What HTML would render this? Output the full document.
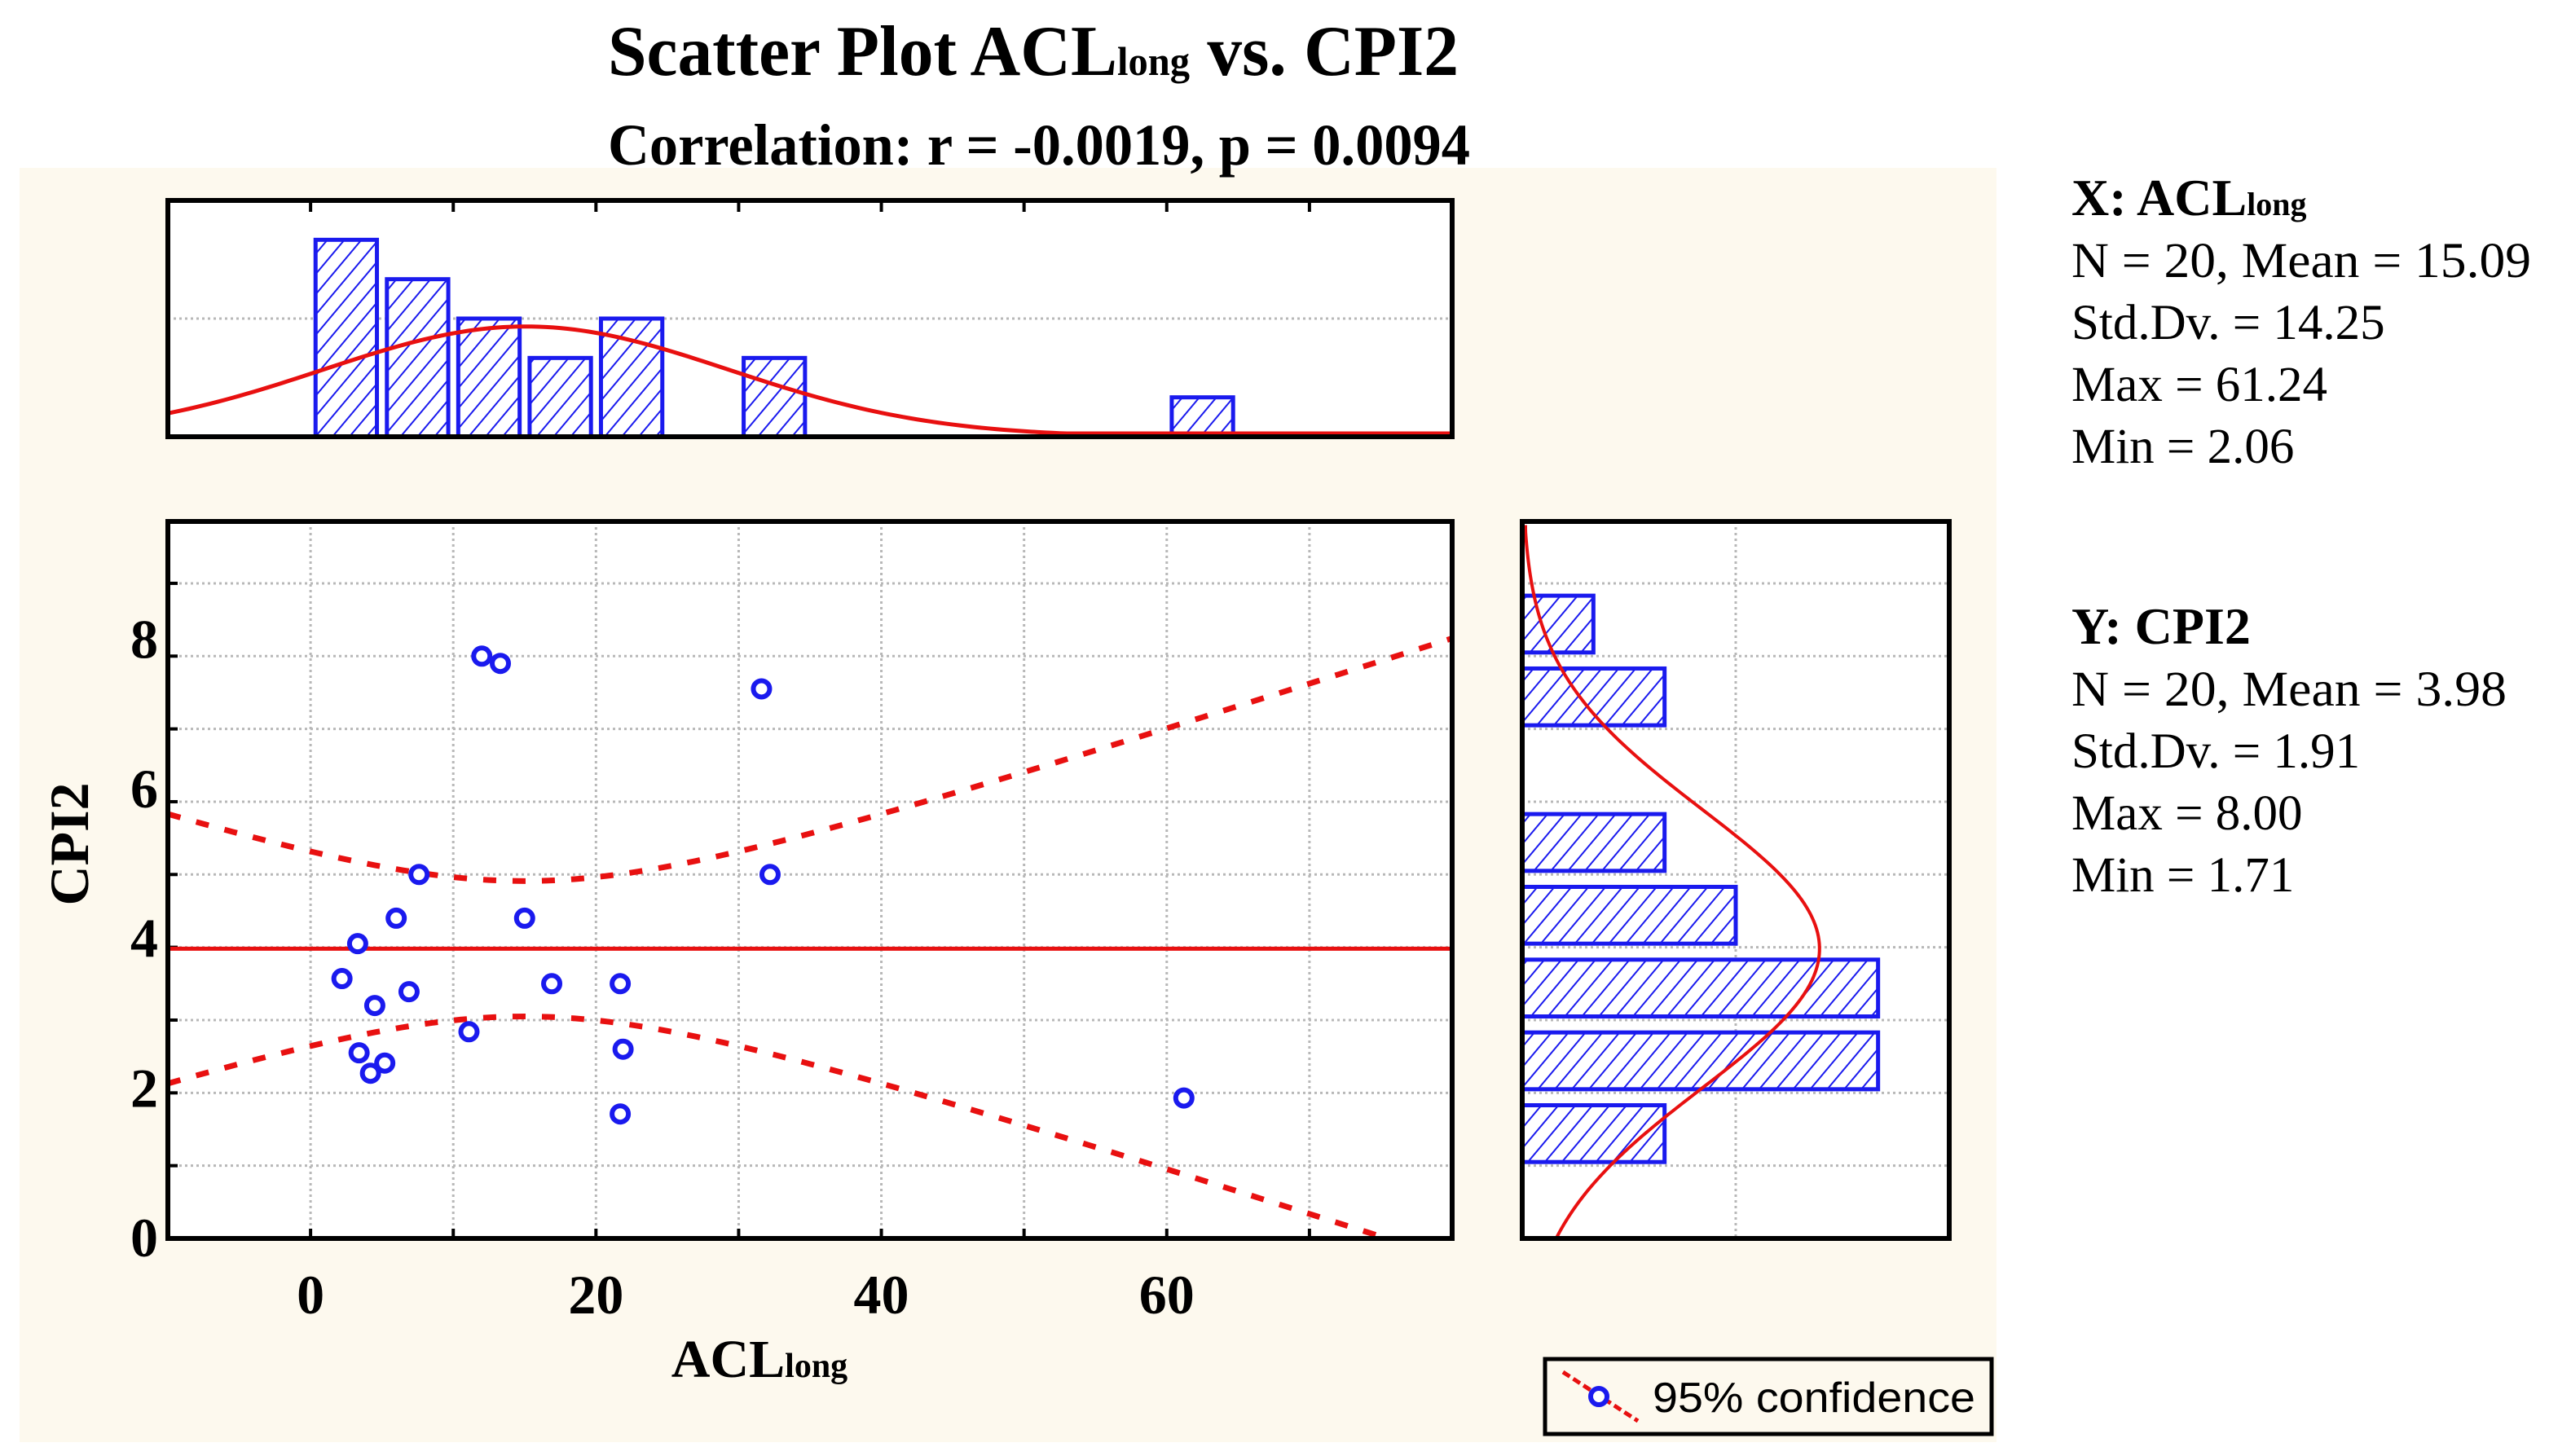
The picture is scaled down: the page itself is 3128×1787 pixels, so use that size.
<!DOCTYPE html>
<html><head><meta charset="utf-8"><style>
html,body{margin:0;padding:0;background:#fff;}
svg{display:block;}
text{font-family:"Liberation Serif",serif;}
</style></head><body>
<svg id="chart" width="3128" height="1787" viewBox="0 0 3128 1787" xmlns="http://www.w3.org/2000/svg">
<defs>
<pattern id="hatch" patternUnits="userSpaceOnUse" width="16" height="16" patternTransform="rotate(40)">
<rect width="16" height="16" fill="#fff"/>
<line x1="0" y1="0" x2="0" y2="16" stroke="#1a1aee" stroke-width="4"/>
</pattern>
</defs>
<rect x="24" y="206" width="2426" height="1564" fill="#fdf9ee"/>
<text x="746" y="92" font-size="88" font-weight="bold" textLength="1044" lengthAdjust="spacingAndGlyphs">Scatter Plot ACL<tspan font-size="50">long</tspan> vs. CPI2</text>
<text x="746" y="202" font-size="72" font-weight="bold" textLength="1058" lengthAdjust="spacingAndGlyphs">Correlation: r = -0.0019, p = 0.0094</text>
<g id="stats" font-size="61">
<text x="2542" y="264" font-weight="bold" font-size="64">X: ACL<tspan font-size="40">long</tspan></text>
<text x="2542" y="340" textLength="564" lengthAdjust="spacingAndGlyphs">N = 20, Mean = 15.09</text>
<text x="2542" y="416">Std.Dv. = 14.25</text>
<text x="2542" y="492">Max = 61.24</text>
<text x="2542" y="568">Min = 2.06</text>
<text x="2542" y="790" font-weight="bold" font-size="64">Y: CPI2</text>
<text x="2542" y="866" textLength="534" lengthAdjust="spacingAndGlyphs">N = 20, Mean = 3.98</text>
<text x="2542" y="942">Std.Dv. = 1.91</text>
<text x="2542" y="1018">Max = 8.00</text>
<text x="2542" y="1094">Min = 1.71</text>
</g>
<g id="legend">
<rect x="1896" y="1668" width="548" height="92" fill="#fdf9ee" stroke="#000" stroke-width="5"/>
<line x1="1918" y1="1684" x2="2010" y2="1744" stroke="#e81010" stroke-width="5" stroke-dasharray="10,5"/>
<circle cx="1962" cy="1714" r="10" fill="#fff" stroke="#1a1aee" stroke-width="6"/>
<text x="2028" y="1733" font-size="52" textLength="396" lengthAdjust="spacingAndGlyphs" style="font-family:'Liberation Sans',sans-serif">95% confidence</text>
</g>
<g id="g"></g>
</svg>
<script>
// ---- data ----
const xVals = [12.0,13.3,31.6,32.2,7.6,6.0,15.0,3.3,2.2,6.9,16.9,21.7,4.5,11.1,3.4,21.9,5.2,4.2,21.7,61.2];
const yVals = [8.0,7.9,7.55,5.0,5.0,4.4,4.4,4.05,3.57,3.39,3.5,3.5,3.2,2.84,2.55,2.6,2.41,2.27,1.71,1.93];
const xBinStarts = [0,5,10,15,20,30,60];
const xBinCounts = [5,4,3,2,3,2,1];
const yBinStarts = [8,7,5,4,3,2,1];
const yBinCounts = [1,2,2,3,5,5,2];
const xTicks = [0,20,40,60];
const yTicks = [0,2,4,6,8];
const xMean = 15.09, xSd = 14.25, yMean = 3.98, ySd = 1.91, nObs = 20;
const bandA = 0.865, bandB = 0.0041;
const bandCenter = 15;

const NS="http://www.w3.org/2000/svg";
const g=document.getElementById('g');
function mk(tag,attrs,parent){const e=document.createElementNS(NS,tag);for(const k in attrs)e.setAttribute(k,attrs[k]);(parent||g).appendChild(e);return e;}

const L=206,R=1782,T=640,B=1520;
const X=v=>L+(v+10)/90*(R-L);
const Y=v=>B-v/9.85*(B-T);
const HT=246,HB=536;
const HY=c=>HB-c/6*(HB-HT);
const RL=1868,RR=2392;
const RX=c=>RL+c/6*(RR-RL);

function frame(x,y,w,h,name){
  const r=mk('rect',{x:x,y:y,width:w,height:h,fill:'#fff'});
  
  
  return r;
}
function border(x,y,w,h,name){
  const r=mk('rect',{x:x,y:y,width:w,height:h,fill:'none',stroke:'#000','stroke-width':6});
  
  
}
const grid={stroke:'#b8b8b8','stroke-width':3,'stroke-dasharray':'3,4'};

// ---- top histogram ----
frame(L,HT,R-L,HB-HT,'x-histogram-area');
let gl=mk('line',Object.assign({x1:L,x2:R,y1:HY(3),y2:HY(3)},grid));


xBinStarts.forEach((s,i)=>{
  const r=mk('rect',{x:X(s+0.35),y:HY(xBinCounts[i]),width:X(s+4.65)-X(s+0.35),height:HB-HY(xBinCounts[i]),fill:'url(#hatch)',stroke:'#1a1aee','stroke-width':5});
  
  
});
let pts=[];
for(let v=-10;v<=80;v+=0.5){const d=nObs*5*Math.exp(-0.5*((v-xMean)/xSd)**2)/(xSd*Math.sqrt(2*Math.PI));pts.push(X(v)+','+Math.min(HY(d),HB-4));}
let c=mk('polyline',{points:pts.join(' '),fill:'none',stroke:'#e81010','stroke-width':5});


for(let v=0;v<=70;v+=10){
  let t=mk('line',{x1:X(v),x2:X(v),y1:HT,y2:HT+14,stroke:'#000','stroke-width':4});
  
  
}
border(L,HT,R-L,HB-HT,'x-histogram-frame');

// ---- main scatter ----
frame(L,T,R-L,B-T,'scatter-area');
for(let v=0;v<=70;v+=10){
  const l=mk('line',Object.assign({x1:X(v),x2:X(v),y1:T,y2:B},grid));
  
  
  const t=mk('line',{x1:X(v),x2:X(v),y1:B-12,y2:B,stroke:'#000','stroke-width':4});
  
  
}
for(let v=1;v<=9;v++){
  const l=mk('line',Object.assign({x1:L,x2:R,y1:Y(v),y2:Y(v)},grid));
  
  
  const t=mk('line',{x1:L,x2:L+12,y1:Y(v),y2:Y(v),stroke:'#000','stroke-width':4});
  
  
}
let rl=mk('line',{x1:L,x2:R,y1:Y(yMean),y2:Y(yMean),stroke:'#e81010','stroke-width':5});


['upper','lower'].forEach((k,idx)=>{
  const p=[];
  for(let v=-10;v<=80;v+=0.5){
    const h=Math.sqrt(bandA+bandB*(v-bandCenter)**2);
    const yy=idx===0?yMean+h:yMean-h;
    if(yy<0)break;
    p.push(X(v)+','+Y(yy));
  }
  const e=mk('polyline',{points:p.join(' '),fill:'none',stroke:'#e81010','stroke-width':7,'stroke-dasharray':'16,20'});
  
  
});
xVals.forEach((xv,i)=>{
  const e=mk('circle',{cx:X(xv),cy:Y(yVals[i]),r:10,fill:'#fff',stroke:'#1a1aee','stroke-width':6});
  
  
});
border(L,T,R-L,B-T,'scatter-frame');
xTicks.forEach(v=>{
  const t=mk('text',{x:X(v),y:1612,'font-size':68,'font-weight':'bold','text-anchor':'middle'});
  t.textContent=v;
  
  
});
yTicks.forEach(v=>{
  const t=mk('text',{x:194,y:Y(v)+22-v*2.5,'font-size':68,'font-weight':'bold','text-anchor':'end'});
  t.textContent=v;
  
  
});
let xt=mk('text',{x:932,y:1690,'font-size':66,'font-weight':'bold','text-anchor':'middle'});
xt.innerHTML='ACL<tspan font-size="42">long</tspan>';


let yt=mk('text',{x:0,y:0,'font-size':68,'font-weight':'bold','text-anchor':'middle',transform:'translate(108,1036) rotate(-90)'});
yt.textContent='CPI2';



// ---- right histogram ----
frame(RL,T,RR-RL,B-T,'y-histogram-area');
let gl2=mk('line',Object.assign({x1:RX(3),x2:RX(3),y1:T,y2:B},grid));


for(let v=1;v<=9;v++){
  const l=mk('line',Object.assign({x1:RL,x2:RR,y1:Y(v),y2:Y(v)},grid));
  
  
}
yBinStarts.forEach((s,i)=>{
  const r=mk('rect',{x:RL,y:Y(s+0.83),width:RX(yBinCounts[i])-RL,height:Y(s+0.05)-Y(s+0.83),fill:'url(#hatch)',stroke:'#1a1aee','stroke-width':5});
  
  
});
pts=[];
for(let v=0;v<=9.85;v+=0.05){const d=nObs*1*Math.exp(-0.5*((v-yMean)/ySd)**2)/(ySd*Math.sqrt(2*Math.PI));pts.push(Math.max(RX(d),RL+4)+','+Y(v));}
c=mk('polyline',{points:pts.join(' '),fill:'none',stroke:'#e81010','stroke-width':4});


border(RL,T,RR-RL,B-T,'y-histogram-frame');
</script>
</body></html>
